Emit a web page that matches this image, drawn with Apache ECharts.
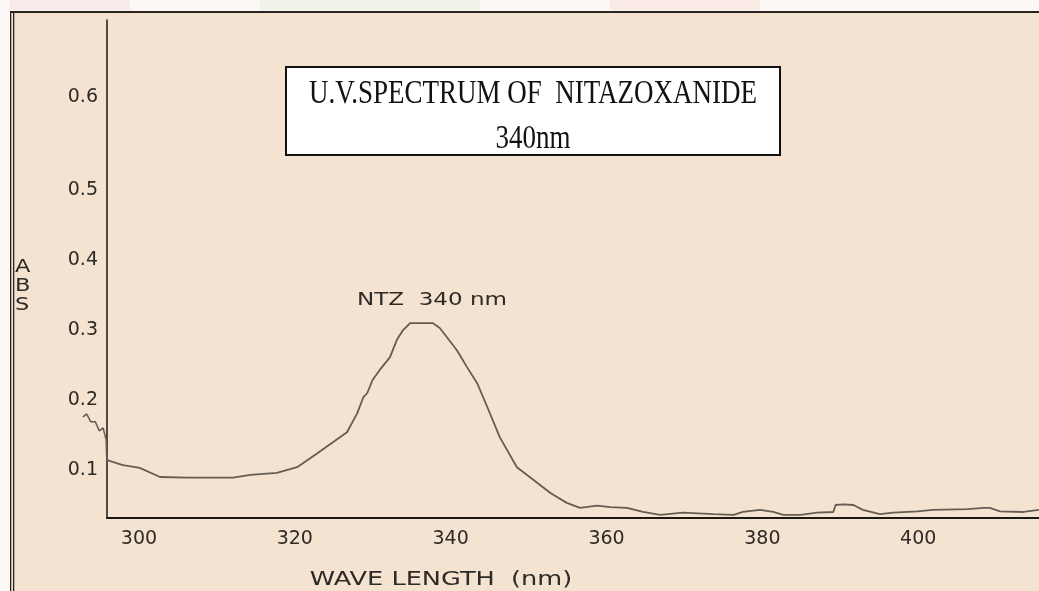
<!DOCTYPE html>
<html>
<head>
<meta charset="utf-8">
<title>U.V. Spectrum of Nitazoxanide</title>
<script src="https://cdn.jsdelivr.net/npm/echarts@6.0.0/dist/echarts.min.js"></script>
<style>
  html, body { margin: 0; padding: 0; background: #fff; }
  #uv-spectrum { width: 1039px; height: 591px; }
</style>
</head>
<body>
<div id="uv-spectrum"></div>
<script>
// wavelength (nm) / absorbance pairs
let wavelength = [
  295.9, 297.95, 300.1, 302.7, 306.2, 312.1, 314.3, 317.7, 320.3, 322.9,
  326.7, 328.0, 328.8, 329.3, 330.0, 330.9, 332.2, 333.1, 333.9, 334.8,
  337.7, 338.6, 339.5, 340.8, 342.1, 343.4, 344.7, 346.3, 348.5, 350.6,
  352.8, 354.9, 356.6, 358.8, 360.5, 362.6, 364.7, 366.9, 369.8, 373.7,
  376.3, 377.5, 379.7, 381.4, 382.7, 384.9, 387.0, 389.1, 389.4, 390.4,
  391.7, 392.9, 395.1, 396.8, 399.9, 401.9, 406.3, 408.4, 409.2, 410.5,
  413.5, 415.5
]
let absorbance = [
  0.114, 0.107, 0.103, 0.090, 0.089, 0.089, 0.093, 0.096, 0.104, 0.124,
  0.154, 0.181, 0.204, 0.210, 0.229, 0.243, 0.261, 0.286, 0.300, 0.310,
  0.310, 0.303, 0.290, 0.271, 0.247, 0.224, 0.190, 0.147, 0.104, 0.086,
  0.067, 0.053, 0.046, 0.049, 0.047, 0.046, 0.040, 0.036, 0.039, 0.037,
  0.036, 0.040, 0.043, 0.040, 0.036, 0.036, 0.039, 0.040, 0.050, 0.051,
  0.050, 0.043, 0.037, 0.039, 0.041, 0.043, 0.044, 0.046, 0.046, 0.041,
  0.040, 0.043
]
// start of the scan, left of where the printed axis begins (spills over the y axis)
let leadWavelength = [292.8, 293.3, 293.8, 294.4, 294.9, 295.4, 295.8, 295.85, 295.9]
let leadAbsorbance = [0.176, 0.180, 0.169, 0.169, 0.156, 0.160, 0.143, 0.121, 0.114]

let xTickValues = [300, 320, 340, 360, 380, 400]
// the 0.6 label on the original print sits higher than the even spacing
let yTickValues = [0.1, 0.2, 0.3, 0.4, 0.5, 0.633]
let yTickLabels = ['0.1', '0.2', '0.3', '0.4', '0.5', '0.6']
let peakNote = {text: 'NTZ  340 nm', nm: 337.6, abs: 0.343}

let paper = '#f4e3d0'
let ink = '#2e2a26'
let trace = '#655d55'

// x range of the printed axis, and a wider hidden one for the lead-in
let xMin = 295.9
let xMax = 415.5
let leadMin = 292.5
let yMin = 0.0314
let yMax = 0.743
let gridLeft = 107
let pxPerNm = (1039 - gridLeft) / (xMax - xMin)

let chartDom = document.getElementById('uv-spectrum')
let myChart = echarts.init(chartDom)

function zip (xs, ys) {
  let out = []
  for (let i = 0; i < xs.length; i++) {
    out.push([xs[i], ys[i]])
  }
  return out
}

let option = {
  animation: false,
  backgroundColor: paper,
  grid: [
    {left: gridLeft, right: 0, top: 20, bottom: 73},
    {left: gridLeft - (xMin - leadMin) * pxPerNm, right: 0, top: 20, bottom: 73}
  ],
  xAxis: [
    {
      type: 'value',
      gridIndex: 0,
      min: xMin,
      max: xMax,
      axisLine: {show: true, lineStyle: {color: '#1c1815', width: 2}},
      axisTick: {show: false},
      splitLine: {show: false},
      axisLabel: {
        customValues: xTickValues,
        margin: 12,
        color: ink,
        fontFamily: 'DejaVu Sans',
        fontSize: 19
      }
    },
    {
      type: 'value',
      gridIndex: 1,
      min: leadMin,
      max: xMax,
      show: false
    }
  ],
  yAxis: [
    {
      type: 'value',
      gridIndex: 0,
      min: yMin,
      max: yMax,
      axisLine: {show: true, lineStyle: {color: '#1c1815', width: 1.5}},
      axisTick: {show: false},
      splitLine: {show: false},
      axisLabel: {
        customValues: yTickValues,
        margin: 9,
        color: ink,
        fontFamily: 'DejaVu Sans',
        fontSize: 19,
        formatter: function (value) {
          for (let i = 0; i < yTickValues.length; i++) {
            if (Math.abs(yTickValues[i] - value) < 1e-6) {
              return yTickLabels[i]
            }
          }
          return ''
        }
      }
    },
    {
      type: 'value',
      gridIndex: 1,
      min: yMin,
      max: yMax,
      show: false
    }
  ],
  series: [
    {
      name: 'NTZ',
      type: 'line',
      xAxisIndex: 0,
      yAxisIndex: 0,
      data: zip(wavelength, absorbance),
      symbol: 'none',
      silent: true,
      lineStyle: {color: trace, width: 1.8}
    },
    {
      name: 'NTZ lead-in',
      type: 'line',
      xAxisIndex: 1,
      yAxisIndex: 1,
      data: zip(leadWavelength, leadAbsorbance),
      symbol: 'none',
      silent: true,
      lineStyle: {color: trace, width: 1.6}
    }
  ],
  graphic: {
    elements: [
      // scan edge above the frame
      {id: 'top-strip', type: 'rect', shape: {x: 0, y: 0, width: 1039, height: 11}, style: {fill: '#fbf8f6'}},
      {id: 'smear-1', type: 'rect', shape: {x: 0, y: 0, width: 130, height: 10}, style: {fill: 'rgba(240,175,175,0.18)'}},
      {id: 'smear-2', type: 'rect', shape: {x: 260, y: 0, width: 220, height: 10}, style: {fill: 'rgba(190,220,175,0.18)'}},
      {id: 'smear-3', type: 'rect', shape: {x: 610, y: 0, width: 150, height: 10}, style: {fill: 'rgba(245,185,175,0.22)'}},
      {id: 'left-strip', type: 'rect', shape: {x: 0, y: 0, width: 10, height: 591}, style: {fill: '#fbf8f6'}},
      // frame
      {id: 'frame-top', type: 'rect', shape: {x: 10, y: 11, width: 1029, height: 2}, style: {fill: '#2a2320'}},
      {id: 'frame-left-1', type: 'rect', shape: {x: 10, y: 11, width: 1.3, height: 580}, style: {fill: '#2a2320'}},
      {id: 'frame-left-2', type: 'rect', shape: {x: 13, y: 13, width: 1.3, height: 578}, style: {fill: '#2a2320'}},
      // title box
      {
        id: 'title-box',
        type: 'rect',
        shape: {x: 286, y: 67, width: 494, height: 88},
        style: {fill: '#ffffff', stroke: '#111', lineWidth: 2}
      },
      {
        id: 'title-text',
        type: 'text',
        x: 533,
        y: 116.5,
        scaleY: 1.22,
        style: {
          text: 'U.V.SPECTRUM OF  NITAZOXANIDE\n340nm',
          font: '27px "Liberation Serif"',
          lineHeight: 37,
          fill: '#111',
          align: 'center',
          verticalAlign: 'middle'
        }
      },
      {
        id: 'y-name',
        type: 'text',
        x: 15,
        y: 286,
        scaleX: 1.25,
        style: {
          text: 'A\nB\nS',
          font: '18px "DejaVu Sans"',
          lineHeight: 19,
          fill: ink,
          align: 'left',
          verticalAlign: 'middle'
        }
      },
      {
        id: 'x-name',
        type: 'text',
        x: 441,
        y: 580,
        scaleX: 1.28,
        style: {
          text: 'WAVE LENGTH  (nm)',
          font: '20px "DejaVu Sans"',
          fill: ink,
          align: 'center',
          verticalAlign: 'middle'
        }
      }
    ]
  }
}
myChart.setOption(option)

// peak note placed through the grid's own scale
let notePos = myChart.convertToPixel({gridIndex: 0}, [peakNote.nm, peakNote.abs])
myChart.setOption({
  graphic: {
    elements: [
      {
        id: 'peak-note',
        type: 'text',
        x: notePos[0],
        y: notePos[1],
        scaleX: 1.28,
        style: {
          text: peakNote.text,
          font: '18px "DejaVu Sans"',
          fill: ink,
          align: 'center',
          verticalAlign: 'middle'
        }
      }
    ]
  }
})
</script>
</body>
</html>
